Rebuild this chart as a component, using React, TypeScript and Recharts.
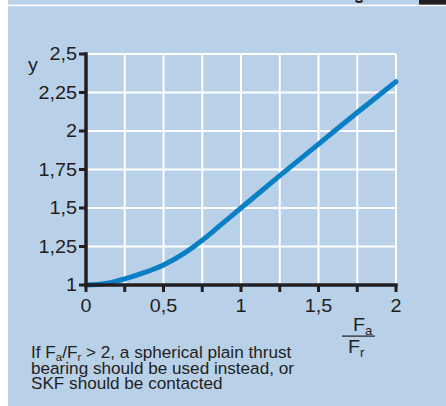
import React from 'react';
import { LineChart, Line, XAxis, YAxis, CartesianGrid } from 'recharts';

const ratioFaFr = [0, 0.125, 0.25, 0.375, 0.5, 0.625, 0.75, 0.875, 1, 1.25, 1.5, 1.75, 2];
const factorY = [1, 1.01, 1.04, 1.08, 1.13, 1.2, 1.29, 1.395, 1.5, 1.71, 1.915, 2.12, 2.32];
const xTicks = [0, 0.25, 0.5, 0.75, 1, 1.25, 1.5, 1.75, 2];
const yTicks = [1, 1.25, 1.5, 1.75, 2, 2.25, 2.5];
const xLabelled = [0, 0.5, 1, 1.5, 2];
const yAxisLabel = 'y';
const noteLines = [
  'bearing should be used instead, or',
  'SKF should be contacted',
];

const data = ratioFaFr.map((x, i) => ({ x, y: factorY[i] }));

const INK = '#231f20';
const BG = '#b9d0e9';
const BLUE = '#0a7fc6';
const FONT = '"Liberation Sans", Arial, Helvetica, sans-serif';
const SX = 1.1;

const fmt = (v: number) => String(v).replace('.', ',');

const XTick = (props: any) => {
  const { x, y, payload } = props;
  const label = xLabelled.includes(payload.value) ? fmt(payload.value) : '';
  if (!label) return null;
  return (
    <g transform={`translate(${x},${y}) scale(${SX},1)`}>
      <text x={0} y={0} dy="0.71em" textAnchor="middle" fontFamily={FONT} fontSize={18} fill={INK}>{label}</text>
    </g>
  );
};

const YTick = (props: any) => {
  const { x, y, payload } = props;
  return (
    <g transform={`translate(${x},${y}) scale(${SX},1)`}>
      <text x={0} y={0} dy="0.355em" textAnchor="end" fontFamily={FONT} fontSize={18} fill={INK}>{fmt(payload.value)}</text>
    </g>
  );
};

export default function App() {
  return (
    <div style={{ position: 'absolute', left: 0, top: 0, width: 446, height: 406, background: '#ffffff', overflow: 'hidden' }}>
      <div style={{ position: 'absolute', left: 8, top: 0, width: 438, height: 406, background: BG }} />
      <div style={{ position: 'absolute', left: 0, top: 0 }}>
        <LineChart width={446} height={406} data={data} margin={{ top: 54, right: 50, bottom: 91, left: 26 }}>
          <CartesianGrid stroke="#ffffff" strokeWidth={2} />
          <XAxis
            dataKey="x"
            type="number"
            domain={[0, 2]}
            ticks={xTicks}
            interval={0}
            height={30}
            tickSize={7}
            tickMargin={7}
            axisLine={{ stroke: INK, strokeWidth: 3.5, strokeLinecap: 'square' }}
            tickLine={{ stroke: INK, strokeWidth: 3 }}
            tick={<XTick />}
          />
          <YAxis
            type="number"
            domain={[1, 2.5]}
            ticks={yTicks}
            interval={0}
            width={60}
            tickSize={7}
            tickMargin={2}
            axisLine={{ stroke: INK, strokeWidth: 3.5, strokeLinecap: 'square' }}
            tickLine={{ stroke: INK, strokeWidth: 3 }}
            tick={<YTick />}
          />
          <Line
            dataKey="y"
            type="monotone"
            stroke={BLUE}
            strokeWidth={5}
            strokeLinecap="round"
            dot={false}
            activeDot={false}
            isAnimationActive={false}
          />
        </LineChart>
      </div>
      <svg width={446} height={406} style={{ position: 'absolute', left: 0, top: 0, pointerEvents: 'none' }}>
        <rect x={8} y={4.6} width={438} height={1.6} fill="#ffffff" />
        <rect x={419} y={0} width={27} height={4.6} fill={INK} />
        <path d="M355.5 0.5 Q359 3.6 362.5 0.5" stroke={INK} strokeWidth={2} fill="none" />
        <g transform={`translate(28,71) scale(${SX},1)`}>
          <text x={0} y={0} fontFamily={FONT} fontSize={18} fill={INK}>{yAxisLabel}</text>
        </g>
        <g transform={`translate(353,331) scale(${SX},1)`}>
          <text x={0} y={0} fontFamily={FONT} fontSize={18} fill={INK}>
            F<tspan fontSize={12} dy={4}>a</tspan>
          </text>
        </g>
        <rect x={342} y={335.5} width={33} height={1.2} fill={INK} />
        <g transform={`translate(348,353) scale(${SX},1)`}>
          <text x={0} y={0} fontFamily={FONT} fontSize={18} fill={INK}>
            F<tspan fontSize={12} dy={3.5}>r</tspan>
          </text>
        </g>
        <g transform={`translate(31,358) scale(${SX},1)`}>
          <text x={0} y={0} fontFamily={FONT} fontSize={15.6} fill={INK}>
            If F<tspan fontSize={10.5} dy={2.5}>a</tspan><tspan dy={-2.5}>/F</tspan><tspan fontSize={10.5} dy={2.5}>r</tspan><tspan dy={-2.5}>{' > 2, a spherical plain thrust'}</tspan>
          </text>
        </g>
        {noteLines.map((t, i) => (
          <g key={i} transform={`translate(31,${373.5 + i * 15.5})`}>
            <g transform={`scale(${SX},1)`}>
              <text x={0} y={0} fontFamily={FONT} fontSize={15.6} fill={INK}>{t}</text>
            </g>
          </g>
        ))}
      </svg>
    </div>
  );
}
